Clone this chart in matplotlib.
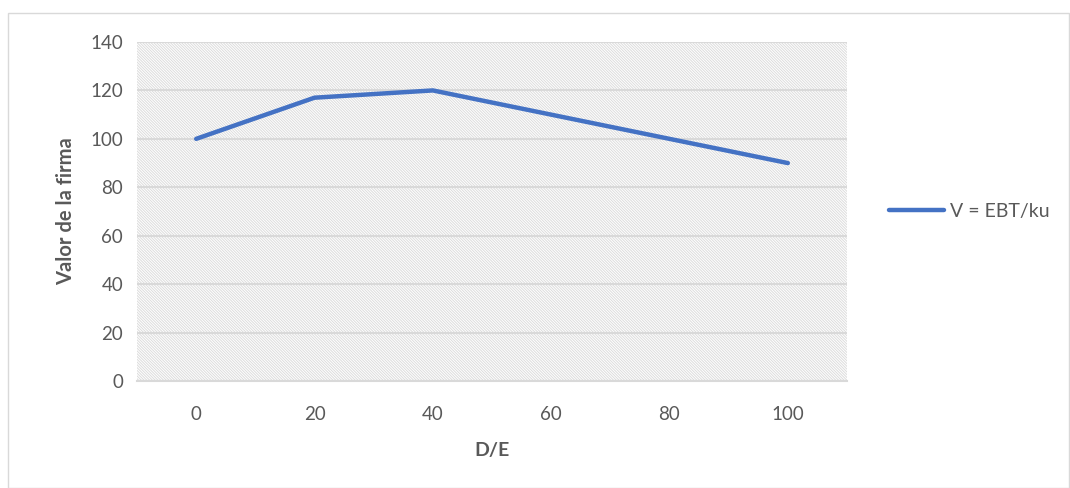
import matplotlib
matplotlib.use('Agg')
import matplotlib.pyplot as plt
from matplotlib.patches import Rectangle

de_ratio = [0, 20, 40, 60, 80, 100]
firm_value = [100, 117, 120, 110, 100, 90]
y_ticks = [0, 20, 40, 60, 80, 100, 120, 140]

TEXT = '#595959'
GRID = '#d9d9d9'
BLUE = '#4472C4'

plt.rcParams['font.family'] = ['Lato', 'DejaVu Sans']
plt.rcParams['hatch.linewidth'] = 0.7

fig = plt.figure(figsize=(10.7, 4.88), dpi=100)
ax = fig.add_axes([137/1070, 107/488, 710/1070, 339/488])

# outer chart border
fig.patches.append(Rectangle((8/1070, 0.5/488), 1061/1070, 475/488, transform=fig.transFigure,
                             fill=False, edgecolor='#d9d9d9', linewidth=1.0))

# hatched plot area
ax.add_patch(Rectangle((0, 0), 1, 1, transform=ax.transAxes, facecolor='white',
                       edgecolor='#dcdcdc', hatch='\\' * 12, linewidth=0, zorder=0))
ax.set_facecolor('white')

ax.set_xlim(-10, 110)
ax.set_ylim(0, 140)
ax.set_xticks(de_ratio)
ax.set_yticks(y_ticks)
ax.yaxis.grid(True, color=GRID, linewidth=1.5, zorder=1)
ax.set_axisbelow(True)

ax.plot(de_ratio, firm_value, color=BLUE, linewidth=3.2, solid_capstyle='round',
        label='V = EBT/ku', zorder=3)

for s in ['top', 'right', 'left']:
    ax.spines[s].set_visible(False)
ax.spines['bottom'].set_color(GRID)
ax.spines['bottom'].set_linewidth(1.5)
ax.tick_params(length=0, labelsize=13.5, colors=TEXT, pad=10)
ax.tick_params(axis='x', pad=18)

ax.set_xlabel('D/E', fontsize=14, fontweight='bold', color=TEXT, labelpad=14)
ax.set_ylabel('Valor de la firma', fontsize=14.5, fontweight='bold', color=TEXT, labelpad=10)

ax.legend(loc='center left', bbox_to_anchor=(1.035, 0.5), frameon=False, fontsize=14,
          labelcolor=TEXT, handlelength=2.8, handletextpad=0.3)

plt.savefig('out.png', dpi=100, facecolor='white')
